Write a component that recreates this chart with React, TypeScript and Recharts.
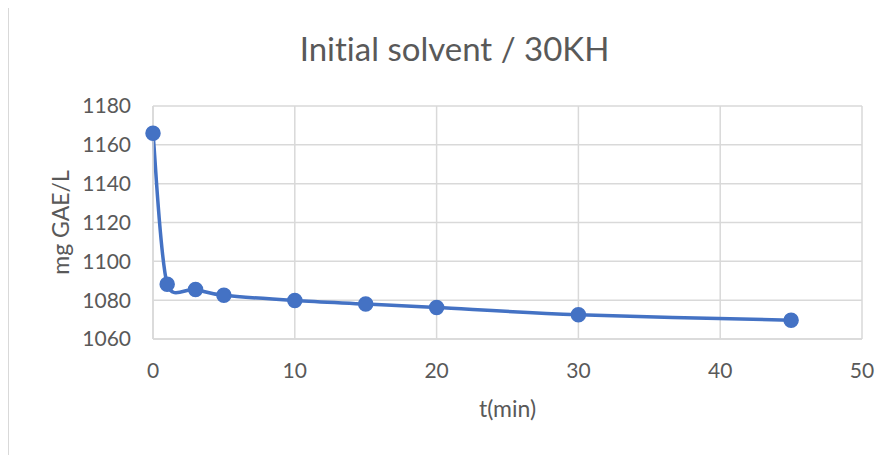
import { LineChart, Line, XAxis, YAxis, CartesianGrid } from 'recharts';

const times = [0, 1, 3, 5, 10, 15, 20, 30, 45];
const gae = [1166, 1088.2, 1085.5, 1082.5, 1079.8, 1078, 1076.2, 1072.5, 1069.7];
const xTicks = [0, 10, 20, 30, 40, 50];
const yTicks = [1060, 1080, 1100, 1120, 1140, 1160, 1180];

const data = times.map((t, i) => ({ t, v: gae[i] }));

const BLUE = '#4472C4';
const GRID = '#d9d9d9';
const TEXT = '#595959';
const FONT = 'Lato, "Open Sans", sans-serif';

// Catmull-Rom style bezier with the handle length capped per segment,
// so the steep first drop doesn't overshoot the flat tail too much.
const smoothCurve = (ctx: any) => {
  let pts: number[][] = [];
  return {
    areaStart() {},
    areaEnd() {},
    lineStart() {
      pts = [];
    },
    point(x: number, y: number) {
      pts.push([+x, +y]);
    },
    lineEnd() {
      const n = pts.length;
      if (!n) return;
      ctx.moveTo(pts[0][0], pts[0][1]);
      const clamp = (dx: number, dy: number, max: number) => {
        const l = Math.hypot(dx, dy);
        return l > max ? [(dx * max) / l, (dy * max) / l] : [dx, dy];
      };
      for (let i = 0; i < n - 1; i++) {
        const p0 = pts[Math.max(i - 1, 0)];
        const p1 = pts[i];
        const p2 = pts[i + 1];
        const p3 = pts[Math.min(i + 2, n - 1)];
        const cap = Math.hypot(p2[0] - p1[0], p2[1] - p1[1]) * 0.6;
        const [ax, ay] = clamp((p2[0] - p0[0]) / 6, (p2[1] - p0[1]) / 6, cap);
        const [bx, by] = clamp((p3[0] - p1[0]) / 6, (p3[1] - p1[1]) / 6, cap);
        ctx.bezierCurveTo(p1[0] + ax, p1[1] + ay, p2[0] - bx, p2[1] - by, p2[0], p2[1]);
      }
    },
  };
};

export default function App() {
  return (
    <div
      style={{
        position: 'relative',
        width: 885,
        height: 447,
        fontFamily: FONT,
        fontVariantLigatures: 'none',
      }}
    >
      <div
        style={{
          position: 'absolute',
          left: -1,
          top: -2,
          width: 900,
          height: 460,
          borderLeft: `2px solid ${GRID}`,
          borderTop: `2px solid ${GRID}`,
        }}
      />
      <div
        style={{
          position: 'absolute',
          left: 0,
          width: 893,
          top: 24,
          fontSize: 33,
          lineHeight: '33px',
          color: TEXT,
          textAlign: 'center',
        }}
      >
        Initial solvent / 30KH
      </div>
      <LineChart
        width={885}
        height={447}
        data={data}
        margin={{ top: 98, right: 31, bottom: 36, left: 0 }}
        style={{ position: 'absolute', left: 0, top: 0 }}
      >
        <CartesianGrid stroke={GRID} strokeWidth={1.5} />
        <XAxis
          dataKey="t"
          type="number"
          domain={[0, 50]}
          ticks={xTicks}
          height={80}
          axisLine={{ stroke: GRID, strokeWidth: 1.5 }}
          tickLine={false}
          tickSize={0}
          tickMargin={24}
          tick={{ fill: TEXT, fontSize: 21, fontFamily: FONT }}
          label={{ value: 't(min)', position: 'insideBottom', offset: 2, fill: TEXT, fontSize: 23, fontFamily: FONT }}
        />
        <YAxis
          type="number"
          domain={[1060, 1180]}
          ticks={yTicks}
          width={145}
          axisLine={{ stroke: GRID, strokeWidth: 1.5 }}
          tickLine={false}
          tickSize={0}
          tickMargin={22}
          tick={{ fill: TEXT, fontSize: 21, fontFamily: FONT }}
          label={{
            value: 'mg GAE/L',
            angle: -90,
            position: 'insideLeft',
            offset: 53,
            fill: TEXT,
            fontSize: 23,
            fontFamily: FONT,
            style: { textAnchor: 'middle' },
          }}
        />
        <Line
          dataKey="v"
          type={smoothCurve as any}
          stroke={BLUE}
          strokeWidth={3.5}
          dot={{ r: 7, fill: BLUE, stroke: BLUE, strokeWidth: 1.5 }}
          activeDot={false}
          isAnimationActive={false}
        />
      </LineChart>
    </div>
  );
}
